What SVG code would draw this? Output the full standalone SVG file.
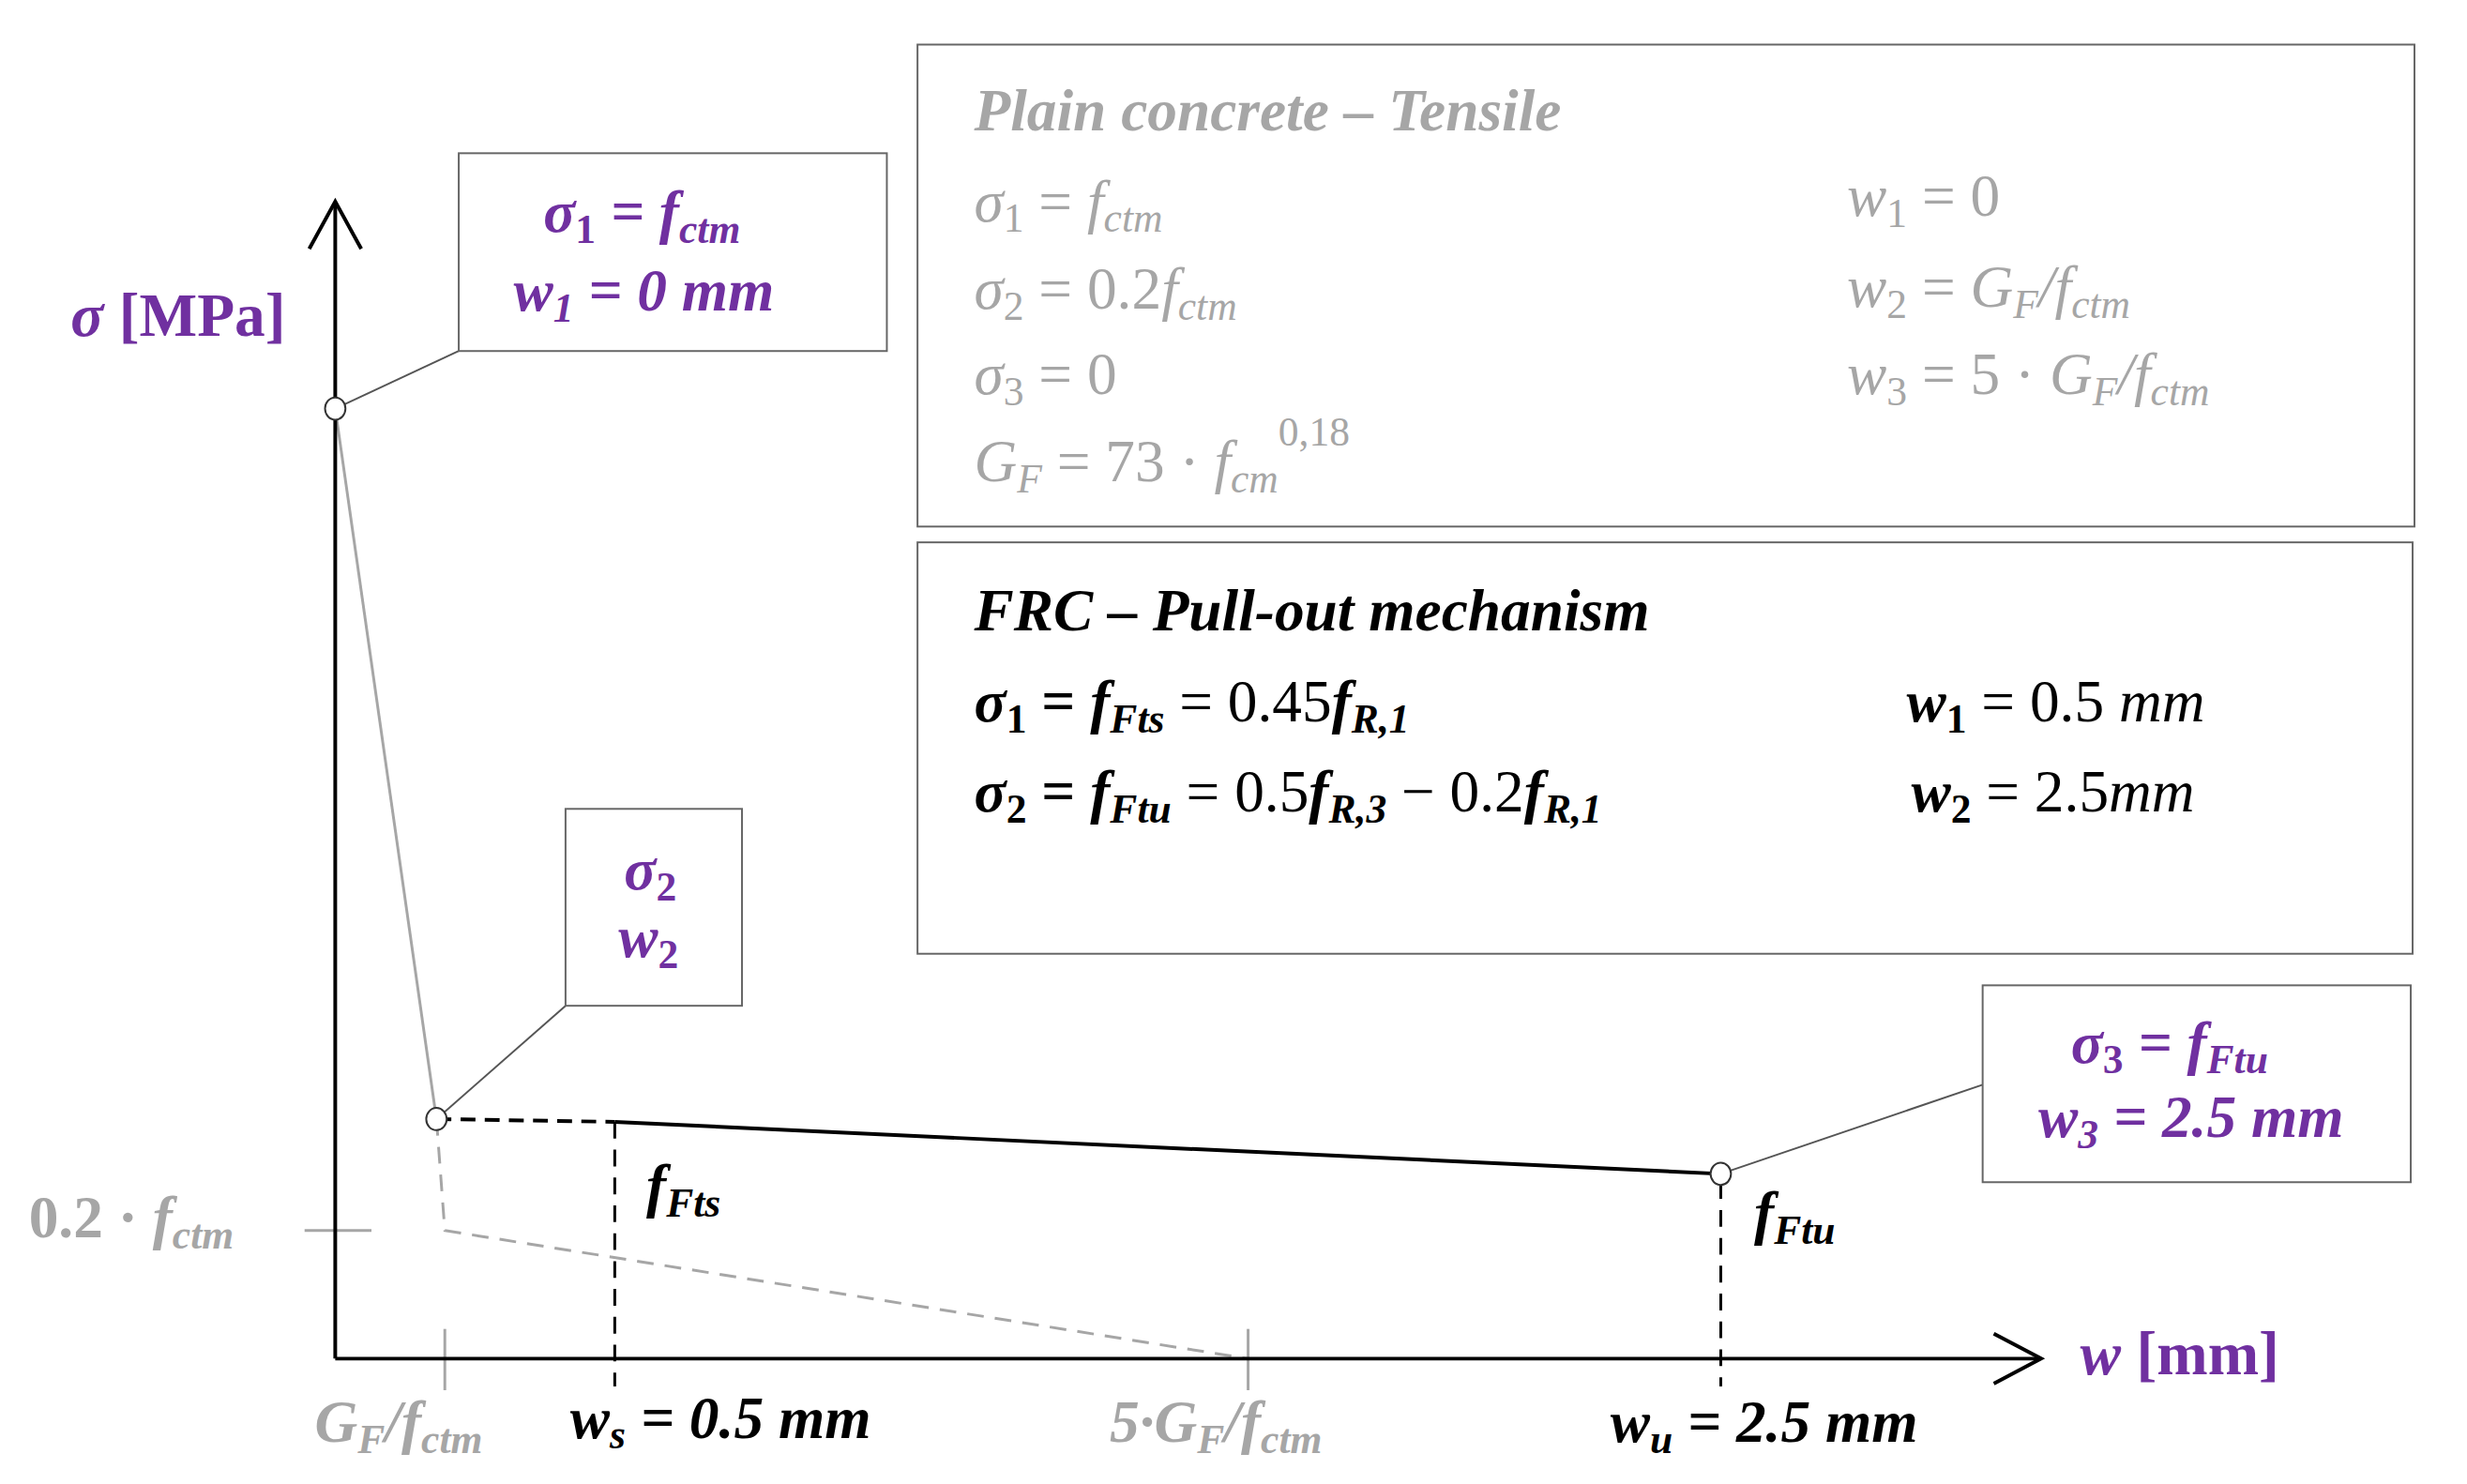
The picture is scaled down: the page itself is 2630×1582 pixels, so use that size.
<svg xmlns="http://www.w3.org/2000/svg" width="2630" height="1582" viewBox="0 0 2630 1582">
<style>
text{font-family:"Liberation Serif","DejaVu Serif",serif;font-style:italic;font-weight:bold}
.p{fill:#7030A0}.g{fill:#A6A6A6}.k{fill:#000}
.m{font-size:64px}.s{font-size:44px}
.n{font-weight:normal}.u{font-style:normal}
.box{fill:#fff;stroke:#666;stroke-width:2}
.lead{stroke:#555;stroke-width:2;fill:none}
</style>
<rect width="2630" height="1582" fill="#fff"/>
<g transform="scale(0.99)">
<g id="connectors" fill="none">
<line x1="479" y1="1431" x2="479" y2="1497" stroke="#A6A6A6" stroke-width="3"/>
<line x1="1344" y1="1431" x2="1344" y2="1497" stroke="#A6A6A6" stroke-width="3"/>
<line x1="328" y1="1325" x2="400" y2="1325" stroke="#A6A6A6" stroke-width="3"/>
<polyline points="361,440 470,1205" stroke="#A6A6A6" stroke-width="3"/>
<polyline points="470,1205 479,1325 1344,1463" stroke="#A6A6A6" stroke-width="3" stroke-dasharray="18,12"/>
<line x1="361" y1="1463" x2="361" y2="220" stroke="#000" stroke-width="4"/>
<polyline points="333,268 361,217 389,268" stroke="#000" stroke-width="4"/>
<line x1="361" y1="1463" x2="2195" y2="1463" stroke="#000" stroke-width="4"/>
<polyline points="2147,1436 2198,1463 2147,1490" stroke="#000" stroke-width="4"/>
<polyline points="470,1205 662,1208" stroke="#000" stroke-width="4" stroke-dasharray="16,10"/>
<polyline points="662,1208 1853,1264" stroke="#000" stroke-width="4"/>
<line x1="662" y1="1208" x2="662" y2="1493" stroke="#000" stroke-width="3" stroke-dasharray="18,12"/>
<line x1="1853" y1="1273" x2="1853" y2="1493" stroke="#000" stroke-width="3" stroke-dasharray="18,12"/>
<line class="lead" x1="361" y1="440" x2="494" y2="378"/>
<line class="lead" x1="470" y1="1205" x2="609" y2="1083"/>
<line class="lead" x1="1853" y1="1264" x2="2135" y2="1168"/>
<ellipse cx="361" cy="440" rx="11" ry="12" fill="#fff" stroke="#333" stroke-width="2"/>
<ellipse cx="470" cy="1205" rx="11" ry="12" fill="#fff" stroke="#333" stroke-width="2"/>
<ellipse cx="1853" cy="1264" rx="11" ry="12" fill="#fff" stroke="#333" stroke-width="2"/>
</g>
<g id="axis-labels">
<text class="p u" x="76" y="362" font-size="66"><tspan font-style="italic">σ</tspan> [MPa]</text>
<text class="p" x="2240" y="1480" font-size="66">w<tspan class="u"> [mm]</tspan></text>
<text class="g m u" x="31" y="1332">0.2 · <tspan font-style="italic">f</tspan><tspan class="s" font-style="italic" dy="12">ctm</tspan></text>
<text class="g m" x="339" y="1553">G<tspan class="s" dy="12">F</tspan><tspan dy="-12">/f</tspan><tspan class="s" dy="12">ctm</tspan></text>
<text class="k m" x="614" y="1548">w<tspan class="s" dy="12">s</tspan><tspan dy="-12"> = 0.5 mm</tspan></text>
<text class="g m" x="1195" y="1553">5·G<tspan class="s" dy="12">F</tspan><tspan dy="-12">/f</tspan><tspan class="s" dy="12">ctm</tspan></text>
<text class="k m" x="1734" y="1553">w<tspan class="s" dy="12">u</tspan><tspan dy="-12"> = 2.5 mm</tspan></text>
<text class="k m" x="696" y="1298">f<tspan class="s" dy="12">Fts</tspan></text>
<text class="k m" x="1889" y="1327">f<tspan class="s" dy="12">Ftu</tspan></text>
</g>
<g id="box1">
<rect class="box" x="494" y="165" width="461" height="213"/>
<text class="p m" x="585" y="250">σ<tspan class="s u" dy="12">1</tspan><tspan dy="-12"> = f</tspan><tspan class="s" dy="12">ctm</tspan></text>
<text class="p m" x="553" y="334">w<tspan class="s" dy="12">1</tspan><tspan dy="-12"> = 0 mm</tspan></text>
</g>
<g id="box2">
<rect class="box" x="609" y="871" width="190" height="212"/>
<text class="p m" x="672" y="958">σ<tspan class="s u" dy="12">2</tspan></text>
<text class="p m" x="666" y="1030">w<tspan class="s u" dy="12">2</tspan></text>
</g>
<g id="box3">
<rect class="box" x="2135" y="1061" width="461" height="212"/>
<text class="p m" x="2230" y="1144">σ<tspan class="s u" dy="12">3</tspan><tspan dy="-12"> = f</tspan><tspan class="s" dy="12">Ftu</tspan></text>
<text class="p m" x="2195" y="1224">w<tspan class="s" dy="12">3</tspan><tspan dy="-12"> = 2.5 mm</tspan></text>
</g>
<g id="plain">
<rect class="box" x="988" y="48" width="1612" height="519"/>
<text class="g" x="1049" y="140" font-size="64">Plain concrete – Tensile</text>
<text class="g m n" x="1049" y="238">σ<tspan class="s u" dy="12">1</tspan><tspan class="u" dy="-12"> = </tspan><tspan>f</tspan><tspan class="s" dy="12">ctm</tspan></text>
<text class="g m n" x="1049" y="332">σ<tspan class="s u" dy="12">2</tspan><tspan class="u" dy="-12"> = 0.2</tspan><tspan>f</tspan><tspan class="s" dy="12">ctm</tspan></text>
<text class="g m n" x="1049" y="424">σ<tspan class="s u" dy="12">3</tspan><tspan class="u" dy="-12"> = 0</tspan></text>
<text class="g m n" x="1049" y="518">G<tspan class="s" dy="12">F</tspan><tspan class="u" dy="-12"> = 73 · </tspan><tspan>f</tspan><tspan class="s" dy="12">cm</tspan><tspan class="s u" dy="-50">0,18</tspan></text>
<text class="g m n" x="1989" y="232">w<tspan class="s u" dy="12">1</tspan><tspan class="u" dy="-12"> = 0</tspan></text>
<text class="g m n" x="1989" y="330">w<tspan class="s u" dy="12">2</tspan><tspan class="u" dy="-12"> = </tspan><tspan>G</tspan><tspan class="s" dy="12">F</tspan><tspan dy="-12">/f</tspan><tspan class="s" dy="12">ctm</tspan></text>
<text class="g m n" x="1989" y="424">w<tspan class="s u" dy="12">3</tspan><tspan class="u" dy="-12"> = 5 · </tspan><tspan>G</tspan><tspan class="s" dy="12">F</tspan><tspan dy="-12">/f</tspan><tspan class="s" dy="12">ctm</tspan></text>
</g>
<g id="frc">
<rect class="box" x="988" y="584" width="1610" height="443"/>
<text class="k" x="1049" y="679" font-size="64">FRC – Pull-out mechanism</text>
<text class="k m" x="1049" y="777">σ<tspan class="s u" dy="12">1</tspan><tspan class="u" dy="-12"> = </tspan><tspan>f</tspan><tspan class="s" dy="12">Fts</tspan><tspan dy="-12" class="n u"> = 0.45</tspan><tspan>f</tspan><tspan class="s" dy="12">R,1</tspan></text>
<text class="k m" x="1049" y="874">σ<tspan class="s u" dy="12">2</tspan><tspan class="u" dy="-12"> = </tspan><tspan>f</tspan><tspan class="s" dy="12">Ftu</tspan><tspan dy="-12" class="n u"> = 0.5</tspan><tspan>f</tspan><tspan class="s" dy="12">R,3</tspan><tspan dy="-12" class="n u"> − 0.2</tspan><tspan>f</tspan><tspan class="s" dy="12">R,1</tspan></text>
<text class="k m" x="2053" y="777">w<tspan class="s u" dy="12">1</tspan><tspan dy="-12" class="n u"> = 0.5 </tspan><tspan class="n">mm</tspan></text>
<text class="k m" x="2058" y="874">w<tspan class="s u" dy="12">2</tspan><tspan dy="-12" class="n u"> = 2.5</tspan><tspan class="n">mm</tspan></text>
</g>
</g>
</svg>
